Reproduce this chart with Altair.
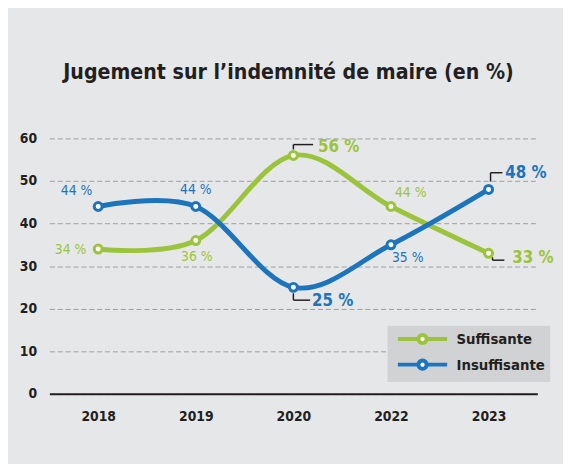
import altair as alt
import pandas as pd

# ---------------- data ----------------
years = ["2018", "2019", "2020", "2022", "2023"]
series_names = ["Suffisante", "Insuffisante"]
suffisante = [34, 36, 56, 44, 33]
insuffisante = [44, 44, 25, 35, 48]
y_ticks = [0, 10, 20, 30, 40, 50, 60]
title_text = "Jugement sur l\u2019indemnit\u00e9 de maire (en %)"

# ---------------- style ----------------
FONT = "Liberation Sans Narrow, DejaVu Sans Condensed, Roboto Condensed, Arial Narrow, sans-serif"
GREEN = "#9bc43c"
BLUE = "#1c75bc"
DARK = "#231f20"
BG = "#e6e7e9"

rows = []
for name, vals in zip(series_names, [suffisante, insuffisante]):
    for yr, v in zip(years, vals):
        rows.append({"annee": yr, "serie": name, "valeur": v, "label": f"{v} %"})
df = pd.DataFrame(rows)

legend_path = ("M -4 0 L -0.6667 0 M 0.6667 0 A 0.6667 0.6667 0 1 1 -0.6667 0 "
               "A 0.6667 0.6667 0 1 1 0.6667 0 M 0.6667 0 L 4 0")

legend = alt.Legend(
    title=None, orient="none", legendX=343, legendY=190,
    fillColor="#d1d2d4", padding=5, rowPadding=1,
    symbolType=legend_path, symbolSize=156, symbolStrokeWidth=4,
    symbolFillColor="white", symbolOffset=22, labelOffset=26,
    labelFont=FONT, labelFontSize=15, labelFontWeight="bold",
    labelColor=DARK,
)
color_enc = alt.Color("serie:N", scale=alt.Scale(domain=series_names, range=[GREEN, BLUE]),
                      legend=legend)

x_enc = alt.X(
    "annee:O",
    sort=years,
    scale=alt.Scale(type="point", padding=0.5),
    axis=alt.Axis(
        title=None, labelAngle=0, labelFont=FONT, labelFontSize=14,
        labelFontWeight="bold", labelColor=DARK, labelPadding=16,
        ticks=False, domain=True, domainColor=DARK, domainWidth=2, grid=False,
    ),
)
y_enc = alt.Y(
    "valeur:Q",
    scale=alt.Scale(domain=[0, 60], nice=False, zero=True),
    axis=alt.Axis(
        title=None, values=y_ticks, labelFont=FONT, labelFontSize=14,
        labelFontWeight="bold", labelColor=DARK, labelPadding=13,
        ticks=False, domain=False, grid=True, gridColor="#9d9d9d",
        gridDash=[5, 3], gridWidth=1,
    ),
)

base = alt.Chart(df)

lines = base.mark_line(interpolate="cardinal", strokeWidth=5, strokeCap="round").encode(
    x=x_enc, y=y_enc, color=color_enc, order=alt.Order("annee:O"),
)

points = base.mark_point(filled=False, fill="white", fillOpacity=1, opacity=1,
                         size=65, strokeWidth=3).encode(
    x=x_enc, y=y_enc, color=color_enc,
)


def sel(serie, annee):
    return (alt.datum.serie == serie) & (alt.datum.annee == annee)


def label(serie, annee, dx, dy, align, bold):
    col = GREEN if serie == "Suffisante" else BLUE
    return base.mark_text(
        dx=dx, dy=dy, align=align, baseline="middle", font=FONT,
        fontSize=17 if bold else 14, fontWeight="bold" if bold else "normal",
        color=col,
    ).encode(x=x_enc, y=y_enc, text="label:N").transform_filter(sel(serie, annee))


def leader(serie, annee, xo, yv1, yv2, xh2):
    vert = base.mark_rule(color=DARK, strokeWidth=1.5, xOffset=xo,
                          yOffset=yv1, y2Offset=yv2).encode(
        x=x_enc, y=y_enc, y2=alt.Y2("valeur:Q")
    ).transform_filter(sel(serie, annee))
    horiz = base.mark_rule(color=DARK, strokeWidth=1.5, xOffset=xo,
                           x2Offset=xh2, yOffset=yv2, y2Offset=yv2).encode(
        x=x_enc, x2=alt.X2("annee:O"), y=y_enc
    ).transform_filter(sel(serie, annee))
    return [vert, horiz]


labels = [
    label("Insuffisante", "2018", -6, -16, "right", False),
    label("Insuffisante", "2019", 0, -17, "center", False),
    label("Suffisante", "2018", -12, 1, "right", False),
    label("Suffisante", "2019", 1, 17, "center", False),
    label("Suffisante", "2022", 20, -14, "center", False),
    label("Insuffisante", "2022", 17, 13, "center", False),
    label("Suffisante", "2020", 25, -8, "left", True),
    label("Insuffisante", "2020", 19, 14, "left", True),
    label("Suffisante", "2023", 24, 5, "left", True),
    label("Insuffisante", "2023", 17, -17, "left", True),
]

leaders = (
    leader("Suffisante", "2020", 0, -6, -11, 20)
    + leader("Insuffisante", "2020", 0, 6, 13, 17)
    + leader("Suffisante", "2023", 4, 4, 7, 16)
    + leader("Insuffisante", "2023", 2, -8, -17, 14)
)

chart = alt.layer(lines, *leaders, points, *labels).properties(
    width=495,
    height=259,
    title=alt.TitleParams(
        text=title_text, font=FONT, fontSize=21.5, fontWeight="bold",
        color=DARK, anchor="middle", baseline="bottom", offset=27, dx=-5,
    ),
    autosize=alt.AutoSizeParams(type="none"),
    padding={"left": 42, "top": 129, "right": 26, "bottom": 68},
    background=BG,
).configure_view(stroke=None)

chart.save("out.html", embed_options={"renderer": "svg", "actions": False})
